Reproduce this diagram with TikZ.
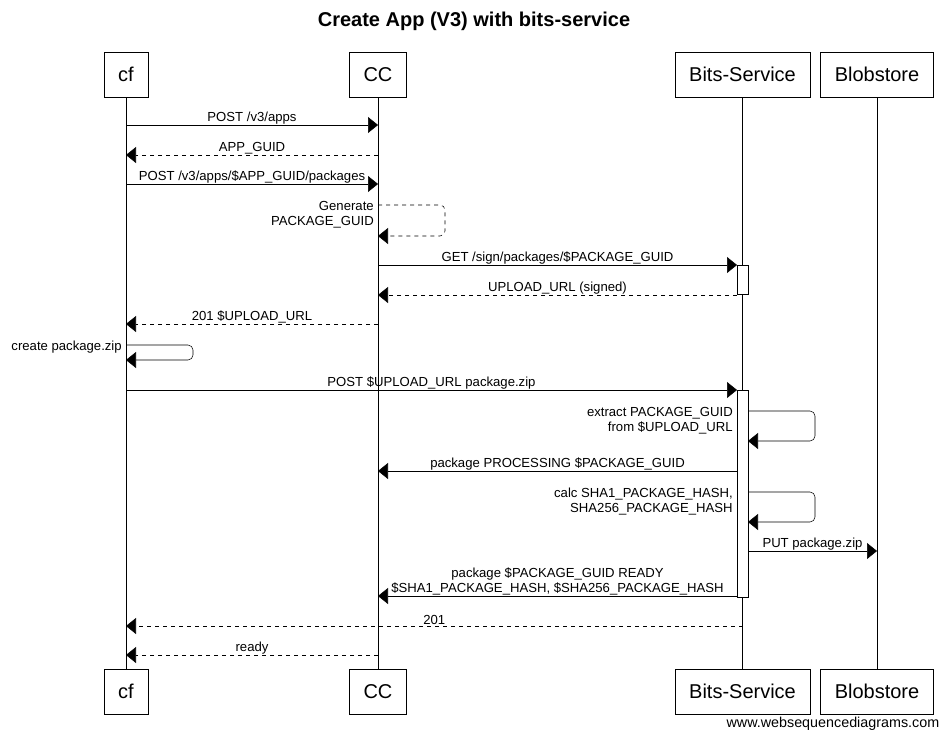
\documentclass[tikz,border=0pt]{standalone}
\usepackage{fontspec}
\setmainfont{Liberation Sans}
\usetikzlibrary{arrows.meta,calc}

\begin{document}
\begin{tikzpicture}[x=0.75pt, y=-0.75pt, draw=black,
  actor/.style={draw, fill=white, minimum height=33.75pt, inner xsep=10.5pt, font=\fontsize{15}{18}\selectfont},
  msg/.style={-{Triangle[length=7.5pt,width=12pt]}},
  reply/.style={msg, dash pattern=on 3pt off 3pt},
  lbl/.style={font=\fontsize{9.85}{11.25}\selectfont, above, inner sep=0.5pt, align=center},
  note/.style={font=\fontsize{9.85}{11.25}\selectfont, anchor=north east, align=right, inner sep=0pt, xshift=-3pt, yshift=3pt},
  act/.style={draw, fill=white}]

\useasboundingbox (0,0) rectangle (947,739);

\node[font=\bfseries\fontsize{15}{18}\selectfont] (title) at (474,21.5) {Create App (V3) with bits-service};

\node[actor] (cf) at (126,74.5) {cf};
\node[actor] (cc) at (378,74.5) {CC};
\node[actor] (bs) at (742.5,74.5) {Bits-Service};
\node[actor] (blob) at (877,74.5) {Blobstore};

\node[actor] (cf2) at (126,691.5) {cf};
\node[actor] (cc2) at (378,691.5) {CC};
\node[actor] (bs2) at (742.5,691.5) {Bits-Service};
\node[actor] (blob2) at (877,691.5) {Blobstore};

\draw (cf) -- (cf2);
\draw (cc) -- (cc2);
\draw (bs) -- (bs2);
\draw (blob) -- (blob2);

% activations on Bits-Service
\draw[act] ($(bs |- 0,265)+(-5.5,0)$) rectangle ($(bs |- 0,294)+(5.5,0)$);
\draw[act] ($(bs |- 0,390)+(-5.5,0)$) rectangle ($(bs |- 0,597)+(5.5,0)$);

\draw[msg] (cf |- 0,125) -- (cc |- 0,125) node[lbl, midway] {POST /v3/apps};
\draw[reply] (cc |- 0,155) -- (cf |- 0,155) node[lbl, midway] {APP\_GUID};
\draw[msg] (cf |- 0,184) -- (cc |- 0,184) node[lbl, midway] {POST /v3/apps/\$APP\_GUID/packages};
\draw[reply, rounded corners=3.75pt] (cc |- 0,205) node[note] {Generate\\PACKAGE\_GUID} -- ++(67,0) -- ++(0,31) -- (cc |- 0,236);

\draw[msg] (cc |- 0,265) -- ($(bs |- 0,265)+(-5.5,0)$) node[lbl, midway] {GET /sign/packages/\$PACKAGE\_GUID};
\draw[reply] ($(bs |- 0,295)+(-5.5,0)$) -- (cc |- 0,295) node[lbl, midway] {UPLOAD\_URL (signed)};
\draw[reply] (cc |- 0,324) -- (cf |- 0,324) node[lbl, midway] {201 \$UPLOAD\_URL};
\draw[msg, rounded corners=3.75pt] (cf |- 0,345) node[note] {create package.zip} -- ++(67,0) -- ++(0,15) -- (cf |- 0,360);

\draw[msg] (cf |- 0,390) -- ($(bs |- 0,390)+(-5.5,0)$) node[lbl, midway] {POST \$UPLOAD\_URL package.zip};
\draw[msg, rounded corners=3.75pt] ($(bs |- 0,411)+(5.5,0)$) -- ++(67,0) -- ++(0,30) -- ($(bs |- 0,441)+(5.5,0)$);
\node[note] (extract) at ($(bs |- 0,411)+(-5.5,0)$) {extract PACKAGE\_GUID\\from \$UPLOAD\_URL};
\draw[msg] ($(bs |- 0,471)+(-5.5,0)$) -- (cc |- 0,471) node[lbl, midway] {package PROCESSING \$PACKAGE\_GUID};
\draw[msg, rounded corners=3.75pt] ($(bs |- 0,492)+(5.5,0)$) -- ++(67,0) -- ++(0,30) -- ($(bs |- 0,522)+(5.5,0)$);
\node[note] (calc) at ($(bs |- 0,492)+(-5.5,0)$) {calc SHA1\_PACKAGE\_HASH,\\SHA256\_PACKAGE\_HASH};
\draw[msg] ($(bs |- 0,551)+(5.5,0)$) -- (blob |- 0,551) node[lbl, midway] {PUT package.zip};
\draw[msg] ($(bs |- 0,596)+(-5.5,0)$) -- (cc |- 0,596) node[lbl, midway] {package \$PACKAGE\_GUID READY\\\$SHA1\_PACKAGE\_HASH, \$SHA256\_PACKAGE\_HASH};

\draw[reply] (bs |- 0,626) -- (cf |- 0,626) node[lbl, midway] {201};
\draw[reply] (cc |- 0,655) -- (cf |- 0,655) node[lbl, midway] {ready};

\node[font=\fontsize{10.75}{12}\selectfont, anchor=east] (credit) at (944,724) {www.websequencediagrams.com};
\end{tikzpicture}
\end{document}
